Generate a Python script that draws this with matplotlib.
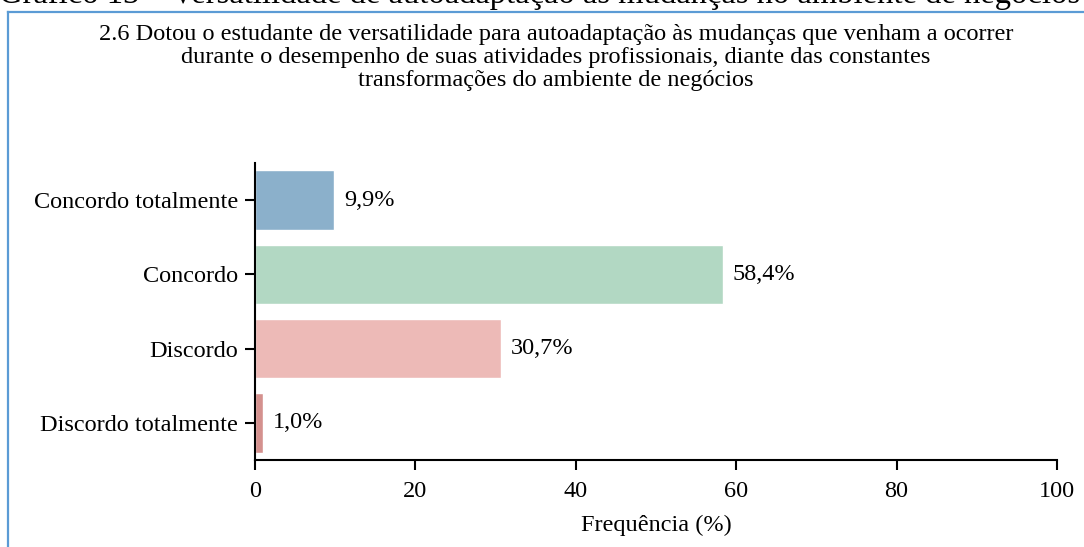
import matplotlib
matplotlib.use('Agg')
import matplotlib.pyplot as plt
from matplotlib.lines import Line2D

categorias = ['Concordo totalmente', 'Concordo', 'Discordo', 'Discordo totalmente']
frequencias = [9.9, 58.4, 30.7, 1.0]
rotulos = ['9,9%', '58,4%', '30,7%', '1,0%']
cores = ['#8BB0CB', '#B2D8C3', '#EDBAB7', '#D4918E']
xticks = [0, 20, 40, 60, 80, 100]

titulo_grafico = 'Gráfico 13 – Versatilidade de autoadaptação às mudanças no ambiente de negócios'
titulo = ('2.6 Dotou o estudante de versatilidade para autoadaptação às mudanças que venham a ocorrer\n'
          'durante o desempenho de suas atividades profissionais, diante das constantes\n'
          'transformações do ambiente de negócios')

plt.rcParams['font.family'] = ['Liberation Serif', 'DejaVu Serif']

fig = plt.figure(figsize=(10.84, 5.47), dpi=100)
ax = fig.add_axes([0.2352, 0.159, 0.7399, 0.543])

pos = range(len(categorias))
ax.barh(pos, frequencias, height=0.8, color=cores, edgecolor='white', linewidth=1)
for p, v, r in zip(pos, frequencias, rotulos):
    ax.text(v + 1.2, p, r, va='center', ha='left', fontsize=17.5)

ax.set_yticks(list(pos))
ax.set_yticklabels(categorias, fontsize=17.5)
ax.set_ylim(3.5, -0.5)
ax.set_xlim(0, 100)
ax.set_xticks(xticks)
ax.set_xticklabels([str(x) for x in xticks], fontsize=17.5)
ax.set_xlabel('Frequência (%)', fontsize=17.5, labelpad=9)
for s in ['top', 'right']:
    ax.spines[s].set_visible(False)
for s in ['left', 'bottom']:
    ax.spines[s].set_linewidth(1.5)
ax.tick_params(axis='y', width=1.5, length=7, pad=5)
ax.tick_params(axis='x', width=1.5, length=7, pad=8)

fig.text(556 / 1084, 1 - 24 / 547, titulo, ha='center', va='top', fontsize=17.5, linespacing=1.12)
fig.text(540 / 1084, 1 - 3 / 547, titulo_grafico, ha='center', va='baseline', fontsize=23.5)

# moldura azul
fig.add_artist(Line2D([8 / 1084, 1], [1 - 12 / 547] * 2, color='#5B9BD5', lw=1.6, transform=fig.transFigure))
fig.add_artist(Line2D([8 / 1084] * 2, [0, 1 - 12 / 547], color='#5B9BD5', lw=1.6, transform=fig.transFigure))

fig.savefig('out.png', dpi=100)
